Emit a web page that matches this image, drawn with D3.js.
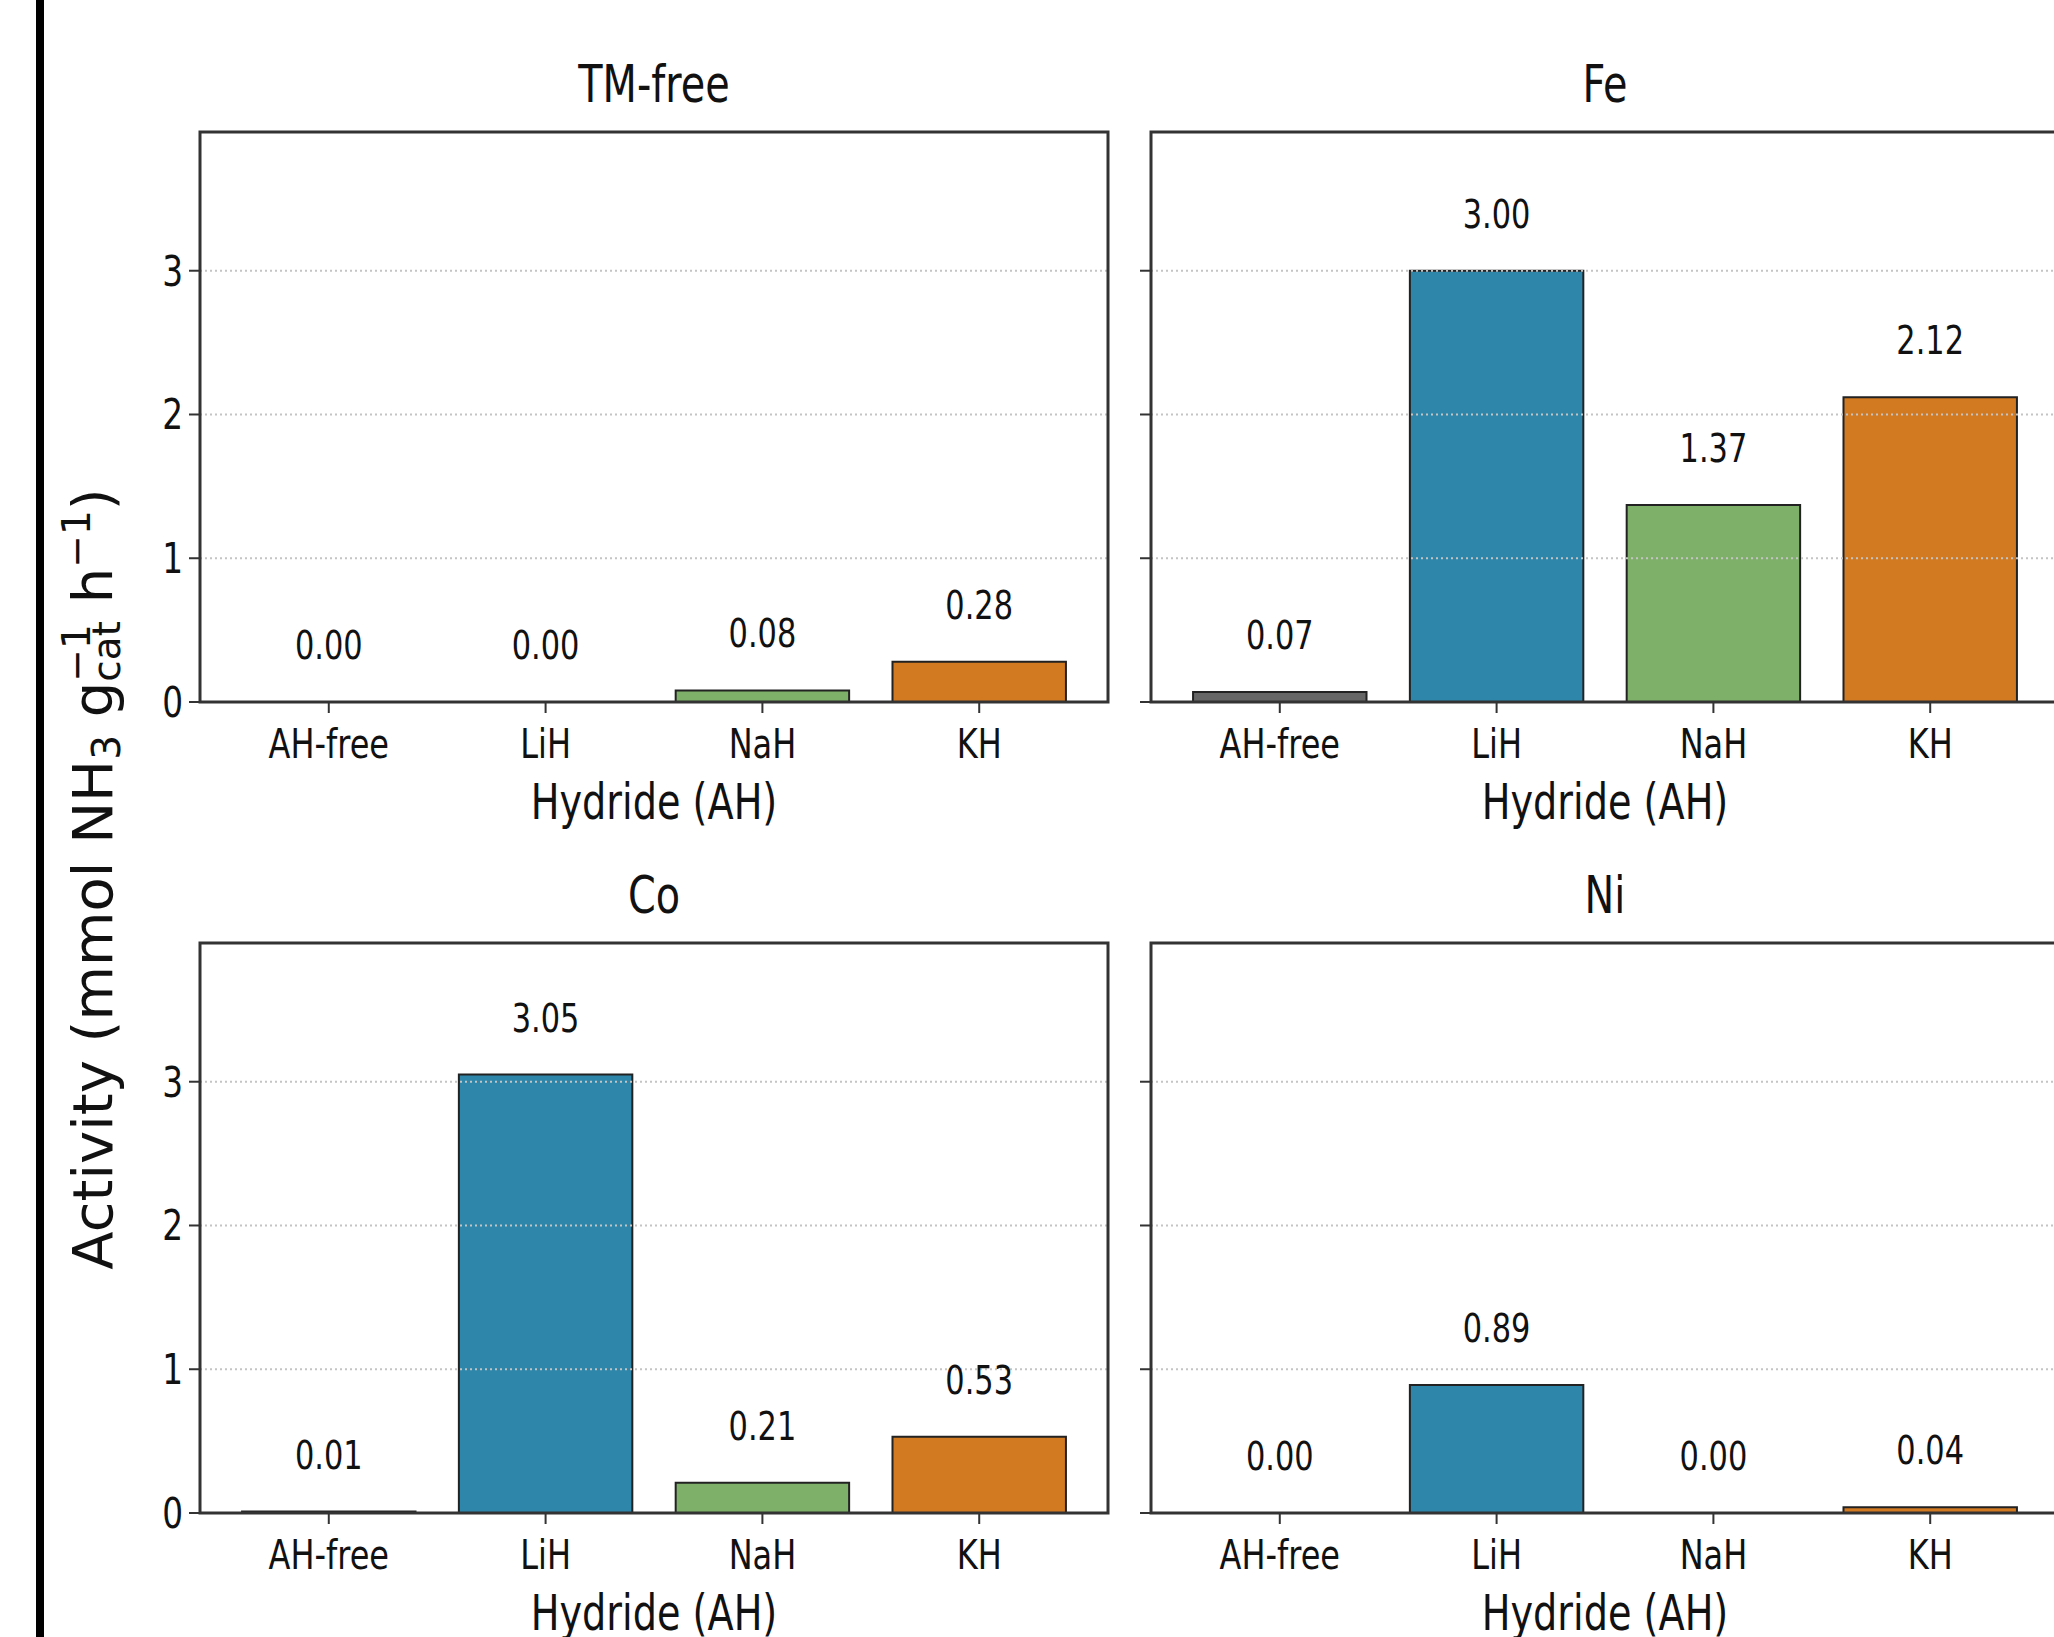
<!DOCTYPE html>
<html>
<head>
<meta charset="utf-8">
<script src="https://cdn.jsdelivr.net/npm/d3@7"></script>
<style>
  body { margin: 0; background: #fff; }
  svg { display: block; }
  text { font-family: "DejaVu Sans", sans-serif; fill: #111; }
</style>
</head>
<body>
<svg id="chart" width="2054" height="1637"></svg>
<script>
// data
const hydrides = ["AH-free", "LiH", "NaH", "KH"];
const metals = ["TM-free", "Fe", "Co", "Ni"];
const tmFree = [0.00, 0.00, 0.08, 0.28];
const fe = [0.07, 3.00, 1.37, 2.12];
const co = [0.01, 3.05, 0.21, 0.53];
const ni = [0.00, 0.89, 0.00, 0.04];
const yTicks = [0, 1, 2, 3];
const colors = ["#666666", "#2E86AB", "#7FB069", "#D17A22"];

const series = [tmFree, fe, co, ni];

const svg = d3.select("#chart");
const W = 908, H = 570;
const cols = [200, 1151], rows = [132, 943];
const ymax = d3.max(series.flat()) * 1.3;
const SX = 0.78; // text in the picture is horizontally condensed

// black frame line at far left
svg.append("rect").attr("x", 36).attr("y", 0).attr("width", 8).attr("height", 1637).attr("fill", "#000");

function ctext(g, x, y, str, size, anchor) {
  return g.append("text")
    .attr("transform", `translate(${x},${y}) scale(${SX},1)`)
    .attr("text-anchor", anchor || "middle")
    .attr("font-size", size)
    .text(str);
}

series.forEach((vals, i) => {
  const ox = cols[i % 2], oy = rows[Math.floor(i / 2)];
  const g = svg.append("g").attr("transform", `translate(${ox},${oy})`);

  const x = d3.scaleBand().domain(hydrides).range([0, W]).paddingInner(0.2).paddingOuter(0.194);
  const y = d3.scaleLinear().domain([0, ymax]).range([H, 0]);

  // bars (path so zero-height bars still show their edge)
  g.selectAll("path.bar").data(vals).join("path")
    .attr("class", "bar")
    .attr("d", (d, j) => {
      const x0 = x(hydrides[j]), w = x.bandwidth();
      return `M${x0},${y(0)}V${y(d)}H${x0 + w}V${y(0)}Z`;
    })
    .attr("fill", (d, j) => colors[j])
    .attr("stroke", "#222")
    .attr("stroke-width", 2);

  // grid
  g.selectAll("line.grid").data(yTicks.filter(t => t > 0)).join("line")
    .attr("x1", 0).attr("x2", W)
    .attr("y1", d => y(d)).attr("y2", d => y(d))
    .attr("stroke", "#c4c4c4").attr("stroke-width", 2).attr("stroke-dasharray", "2,3");

  // value labels
  vals.forEach((d, j) => {
    ctext(g, x(hydrides[j]) + x.bandwidth() / 2, y(d) - 43, d.toFixed(2), 39);
  });

  // frame
  g.append("rect").attr("x", 0).attr("y", 0).attr("width", W).attr("height", H)
    .attr("fill", "none").attr("stroke", "#333").attr("stroke-width", 3);

  // y ticks
  g.selectAll("line.yt").data(yTicks).join("line")
    .attr("x1", -11).attr("x2", 0)
    .attr("y1", d => y(d)).attr("y2", d => y(d))
    .attr("stroke", "#333").attr("stroke-width", 2);
  if (i % 2 === 0) {
    yTicks.forEach(t => ctext(g, -17, y(t) + 15, String(t), 42, "end"));
  }

  // x ticks
  hydrides.forEach(h => {
    const cx = x(h) + x.bandwidth() / 2;
    g.append("line").attr("x1", cx).attr("x2", cx).attr("y1", H).attr("y2", H + 11)
      .attr("stroke", "#333").attr("stroke-width", 2);
    ctext(g, cx, H + 56, h, 41);
  });

  ctext(g, W / 2, H + 117, "Hydride (AH)", 49);
  ctext(g, W / 2, -30, metals[i], 51);
});

// y axis label
const yl = svg.append("text")
  .attr("transform", "translate(112,879) rotate(-90)")
  .attr("text-anchor", "middle")
  .attr("font-size", 56);
yl.append("tspan").text("Activity (mmol NH");
yl.append("tspan").attr("font-size", 39).attr("dy", 8).text("3");
yl.append("tspan").attr("dy", -8).text(" g");
const sup1 = yl.append("tspan").attr("font-size", 39).attr("dy", -22).text("\u22121");
const sub1 = yl.append("tspan").attr("font-size", 39).attr("dy", 30).text("cat");
yl.append("tspan").attr("dy", -8).text(" h");
yl.append("tspan").attr("font-size", 39).attr("dy", -22).text("\u22121");
yl.append("tspan").attr("dy", 22).text(")");
// stack "cat" under the superscript
sub1.attr("dx", -sup1.node().getComputedTextLength());
</script>
</body>
</html>
